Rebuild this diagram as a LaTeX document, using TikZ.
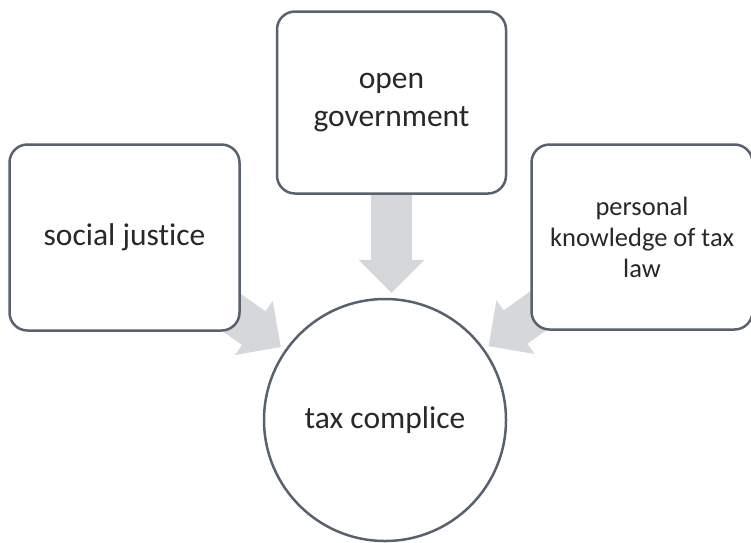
\documentclass[tikz,border=0pt]{standalone}
\usepackage{fontspec}
\setmainfont{Carlito}[Ligatures=NoCommon]
\usetikzlibrary{arrows.meta,positioning}
\pgfdeclarelayer{background}
\pgfsetlayers{background,main}
\definecolor{edgegray}{RGB}{88,97,110}
\definecolor{arrowgray}{RGB}{213,215,219}
\definecolor{textgray}{RGB}{40,40,40}

\begin{document}
\begin{tikzpicture}[x=1pt, y=-1pt, main node/.style={circle, draw=edgegray, line width=2.5pt, fill=white, minimum size=242pt, inner sep=0pt, text=textgray, font=\fontsize{31.5}{38}\selectfont}, box node/.style={rectangle, rounded corners=18pt, draw=edgegray, line width=2.5pt, fill=white, inner sep=0pt, align=center, text=textgray, font=\fontsize{31.5}{38}\selectfont}, big arrow/.style={draw=arrowgray, line width=41pt, -{Triangle[width=66pt, length=33pt, line width=0pt]}, shorten >=5pt}]
\useasboundingbox (0,0) rectangle (751,542);
\node [main node] (c) at (385,420) {tax complice};
\node [box node, minimum width=229pt, minimum height=182pt, above=103pt of c, xshift=6.5pt] (g) {open\\government};
\node [box node, minimum width=230pt, minimum height=186pt, below left=133pt and 35pt of g.north west] (j) {social justice};
\node [box node, minimum width=221pt, minimum height=185pt, below right=133pt and 23pt of g.north east, font=\fontsize{26.5}{31}\selectfont] (k) {personal\\knowledge of tax\\law};

\begin{pgfonlayer}{background}
\draw [big arrow] (j.center) -- (c);
\draw [big arrow] (g.center) -- (g.center |- c.north);
\draw [big arrow] (k.center) -- (c);
\end{pgfonlayer}
\end{tikzpicture}
\end{document}
